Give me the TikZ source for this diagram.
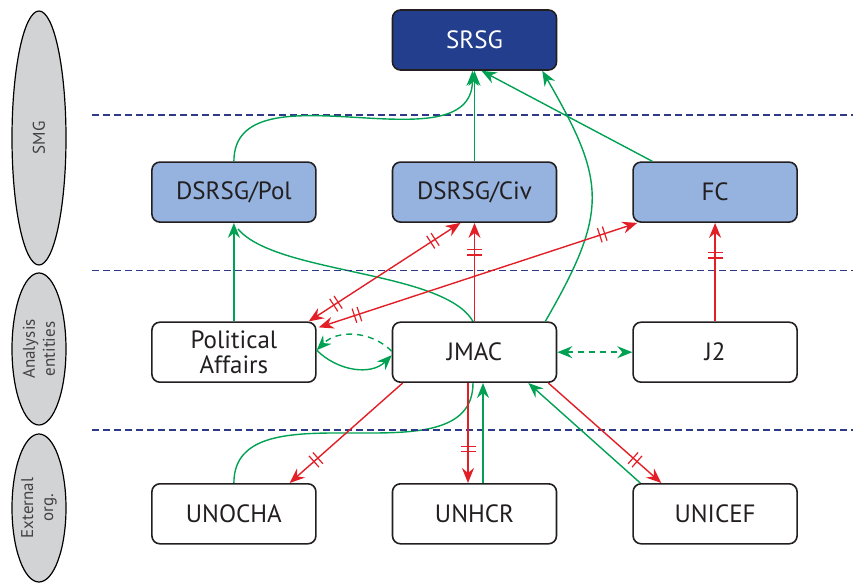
\documentclass[tikz,border=0pt]{standalone}
\usepackage{fontspec}
\setmainfont{PT Sans}
\usetikzlibrary{positioning, arrows.meta, shapes.geometric, decorations.markings, backgrounds}

\definecolor{srsgblue}{RGB}{35,62,140}
\definecolor{smgblue}{RGB}{149,179,222}
\definecolor{linkgreen}{RGB}{0,161,82}
\definecolor{linkred}{RGB}{226,30,38}
\definecolor{levelblue}{RGB}{46,58,135}
\definecolor{bandgray}{RGB}{210,211,213}
\definecolor{boxedge}{RGB}{35,31,32}

\tikzset{
  box/.style={draw=boxedge, line width=0.8pt, fill=white, rounded corners=4pt, minimum width=82pt, minimum height=30pt, inner sep=1pt, align=center, text=boxedge, font=\fontsize{12.5pt}{12.5pt}\selectfont},
  band/.style={ellipse, draw=black, line width=0.6pt, fill=bandgray, rotate=90, inner sep=0pt, minimum height=27pt, align=center, text=boxedge!85, font=\fontsize{8.5pt}{10pt}\selectfont},
  levelline/.style={draw=levelblue, line width=0.65pt, dash pattern=on 3.5pt off 2pt},
  flow/.style={draw=linkgreen, line width=0.7pt},
  order/.style={draw=linkred, line width=0.7pt},
  delay/.style={postaction={decorate, decoration={markings, mark=at position #1 with {\draw[-, linkred, line width=0.6pt] (-1.3pt,-3.75pt) -- (-1.3pt,3.75pt) (1.3pt,-3.75pt) -- (1.3pt,3.75pt);}}}}
}

\begin{document}
\begin{tikzpicture}[>={Stealth[length=7.5pt, width=6pt, inset=2.5pt]}]
    \useasboundingbox (0,0) rectangle (426.5pt,-291.5pt);

    % level bands
    \node (smg) [band, minimum width=127pt] at (19.5pt,-69pt) {SMG};
    \node (analysis) [band, minimum width=76pt] at (19.5pt,-174.5pt) {Analysis\\entities};
    \node (external) [band, minimum width=74pt] at (19.5pt,-254pt) {External\\org.};
    \draw[levelline] (46pt,-57.5pt) -- (426.5pt,-57.5pt);
    \draw[levelline] (46pt,-135.25pt) -- (426.5pt,-135.25pt);
    \draw[levelline] (46pt,-215pt) -- (426.5pt,-215pt);

    % SRSG and SMG
    \node (srsg) [box, fill=srsgblue, text=white] at (237.25pt,-20pt) {SRSG};
    \node (dsrsgciv) [box, fill=smgblue, below=45.25pt of srsg] {DSRSG/Civ};
    \node (dsrsgpol) [box, fill=smgblue, left=37.5pt of dsrsgciv] {DSRSG/Pol};
    \node (fc) [box, fill=smgblue, right=37.5pt of dsrsgciv] {FC};

    % Analysis entities
    \node (jmac) [box, below=49.25pt of dsrsgciv] {JMAC};
    \node (polaff) [box, left=37.5pt of jmac] {Political\\Affairs};
    \node (j2) [box, right=37.5pt of jmac] {J2};

    % External organisations
    \node (unhcr) [box, below=50pt of jmac] {UNHCR};
    \node (unocha) [box, left=37.5pt of unhcr] {UNOCHA};
    \node (unicef) [box, right=37.5pt of unhcr] {UNICEF};

    % into SRSG
    \draw[flow, ->] (dsrsgpol.north) to[out=90, in=-90] ([xshift=-1pt]srsg.south);
    \draw[flow, ->] (dsrsgciv.north) -- (srsg.south);
    \draw[flow, ->] ([xshift=10pt]fc.north west) -- ([xshift=3.5pt]srsg.south);
    \draw[flow, ->] ([xshift=-6pt]jmac.north east) to[out=60, in=-60, looseness=1.3] ([xshift=-7.5pt]srsg.south east);

    % analysis to SMG
    \draw[flow, ->] (polaff.north) -- (dsrsgpol.south);
    \draw[order, ->, delay=0.7] (jmac.north) -- (dsrsgciv.south);
    \draw[order, <->, delay=0.18, delay=0.82] ([xshift=-4pt]polaff.north east) -- ([xshift=-7pt]dsrsgciv.south);
    \draw[order, <->, delay=0.12, delay=0.89] ([xshift=1pt,yshift=-3pt]polaff.north east) -- ([xshift=2.5pt]fc.south west);
    \draw[order, ->, delay=0.67] (j2.north) -- (fc.south);

    % within analysis
    \draw[flow, ->] ([yshift=1pt]polaff.east) to[out=-45, in=-135] ([yshift=-1.5pt]jmac.west);
    \draw[flow, ->, dash pattern=on 3pt off 2.5pt] ([yshift=0.5pt]jmac.west) to[out=135, in=45] ([yshift=1pt]polaff.east);
    \draw[flow, <->, dash pattern=on 3pt off 2.5pt] (jmac.east) -- (j2.west);

    % external to analysis
    \draw[order, ->, delay=0.77] ([xshift=5.5pt]jmac.south west) -- ([xshift=-13.5pt]unocha.north east);
    \draw[order, ->, delay=0.66] ([xshift=-3.25pt]jmac.south) -- ([xshift=-3.25pt]unhcr.north);
    \draw[flow, ->] ([xshift=4.25pt]unhcr.north) -- ([xshift=4.25pt]jmac.south);
    \draw[order, ->, delay=0.77] ([xshift=-4.5pt]jmac.south east) -- ([xshift=14.5pt]unicef.north west);
    \draw[flow, ->] ([xshift=4pt]unicef.north west) -- ([xshift=-14.5pt]jmac.south east);
    \begin{scope}[on background layer]
        \draw[flow] (unocha.north) to[out=90, in=-90] ([xshift=-0.75pt]jmac.south) -- ([xshift=-0.75pt]jmac.north) to[out=120, in=-50, looseness=0.6] ([xshift=2pt,yshift=-3pt]dsrsgpol.south);
    \end{scope}
\end{tikzpicture}
\end{document}
